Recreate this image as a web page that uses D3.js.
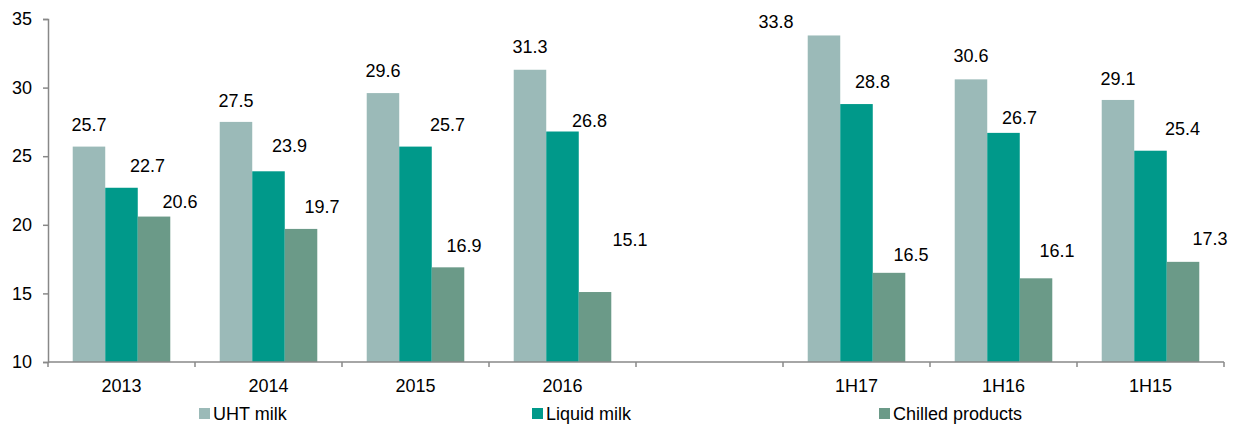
<!DOCTYPE html>
<html>
<head>
<meta charset="utf-8">
<script src="https://cdn.jsdelivr.net/npm/d3@7"></script>
<style>
  body { margin: 0; background: #fff; }
  text { font-family: "Liberation Sans", Arial, sans-serif; fill: #000; }
</style>
</head>
<body>
<div id="chart"></div>
<script>
const categories = ["2013", "2014", "2015", "2016", "", "1H17", "1H16", "1H15"]
const seriesNames = ["UHT milk", "Liquid milk", "Chilled products"]
const uht = [25.7, 27.5, 29.6, 31.3, null, 33.8, 30.6, 29.1]
const liquid = [22.7, 23.9, 25.7, 26.8, null, 28.8, 26.7, 25.4]
const chilled = [20.6, 19.7, 16.9, 15.1, null, 16.5, 16.1, 17.3]
const yTicks = [10, 15, 20, 25, 30, 35]
const colors = ["#9bbab8", "#00998a", "#6b9a88"]

// hand-placed data labels (as in the source chart): [dx from bar centre, gap above bar]
const labelNudge = [
    [[0, 16], [0, 15], [0, 16], [0, 17], null, [-48, 7], [0, 17], [0, 15]],
    [[26, 16], [21, 19], [32, 16], [27, 5], null, [16, 16], [16, 9], [32, 16]],
    [[26, 9], [21, 16], [16, 15], [35, 46], null, [22, 12], [21, 21], [27, 17]]
]

const width = 1238, height = 424
const margin = {top: 19, right: 14, bottom: 62, left: 48}

const svg = d3.select("#chart").append("svg")
    .attr("width", width)
    .attr("height", height)

const x0 = d3.scaleBand()
    .domain(d3.range(categories.length))
    .range([margin.left, width - margin.right])
    .padding(0)

const x1 = d3.scaleBand()
    .domain(seriesNames)
    .range([0, x0.bandwidth()])
    .paddingInner(0)
    .paddingOuter(0.76)

const y = d3.scaleLinear()
    .domain([10, 35])
    .range([height - margin.bottom, margin.top])

const values = [uht, liquid, chilled]
const bars = []
categories.forEach((c, i) => {
    seriesNames.forEach((s, j) => {
        if (values[j][i] != null) bars.push({i, s, j, v: values[j][i]})
    })
})

svg.append("g")
    .selectAll("rect")
    .data(bars)
    .join("rect")
    .attr("x", d => x0(d.i) + x1(d.s))
    .attr("y", d => y(d.v))
    .attr("width", x1.bandwidth())
    .attr("height", d => y(10) - y(d.v))
    .attr("fill", d => colors[d.j])

svg.append("g")
    .selectAll("text")
    .data(bars)
    .join("text")
    .attr("x", d => x0(d.i) + x1(d.s) + x1.bandwidth() / 2 + labelNudge[d.j][d.i][0])
    .attr("y", d => y(d.v) - labelNudge[d.j][d.i][1])
    .attr("text-anchor", "middle")
    .style("font-size", "18px")
    .text(d => d.v.toFixed(1))

// y axis
const yAxis = svg.append("g")
    .attr("transform", `translate(${margin.left},0)`)
    .call(d3.axisLeft(y).tickValues(yTicks).tickSize(5).tickPadding(11))
yAxis.select(".domain").attr("stroke", "#888").attr("stroke-width", 1.5)
yAxis.selectAll(".tick line").attr("stroke", "#888").attr("stroke-width", 1.5)
yAxis.selectAll(".tick text").style("font-size", "18px").attr("fill", "#000")
    .attr("font-family", null)

// x axis with ticks on band edges
const xg = svg.append("g")
    .attr("transform", `translate(0,${y(10)})`)
xg.append("line")
    .attr("x1", margin.left).attr("x2", width - margin.right)
    .attr("stroke", "#888").attr("stroke-width", 1.5)
xg.selectAll("line.tk")
    .data(d3.range(categories.length + 1))
    .join("line")
    .attr("class", "tk")
    .attr("x1", i => i < categories.length ? x0(i) : x0(i - 1) + x0.bandwidth())
    .attr("x2", i => i < categories.length ? x0(i) : x0(i - 1) + x0.bandwidth())
    .attr("y1", 0).attr("y2", 5)
    .attr("stroke", "#888").attr("stroke-width", 1.5)
xg.selectAll("text")
    .data(categories)
    .join("text")
    .attr("x", (d, i) => x0(i) + x0.bandwidth() / 2)
    .attr("y", 30)
    .attr("text-anchor", "middle")
    .style("font-size", "18px")
    .text(d => d)

// legend
const legendX = [199, 532, 879]
const lg = svg.append("g")
    .selectAll("g")
    .data(seriesNames)
    .join("g")
    .attr("transform", (d, i) => `translate(${legendX[i]},408)`)
lg.append("rect")
    .attr("width", 11).attr("height", 11)
    .attr("fill", (d, i) => colors[i])
lg.append("text")
    .attr("x", 14).attr("y", 12)
    .style("font-size", "18px")
    .text(d => d)
</script>
</body>
</html>
